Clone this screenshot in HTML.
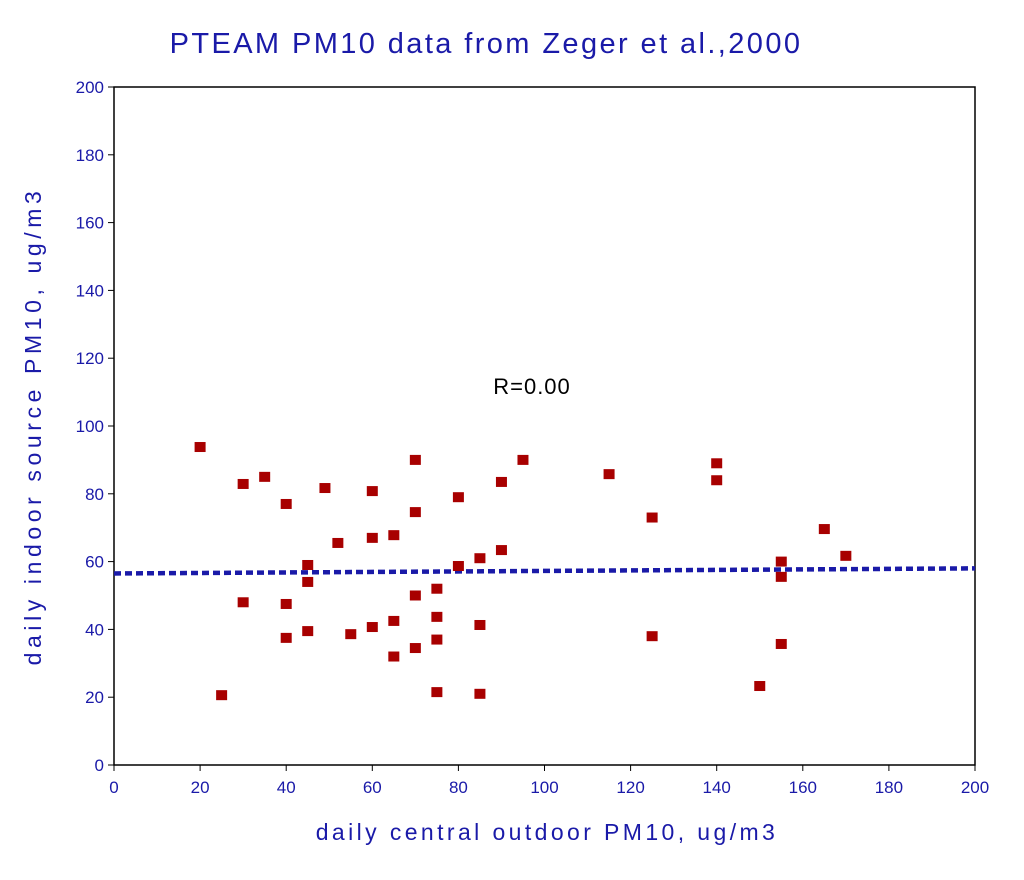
<!DOCTYPE html>
<html><head><meta charset="utf-8"><style>
body{margin:0;background:#fff;}
svg text{font-family:"Liberation Sans",sans-serif;}
</style></head><body>
<svg width="1024" height="875" viewBox="0 0 1024 875" xmlns="http://www.w3.org/2000/svg">
<text x="486" y="53" font-size="29" letter-spacing="2.4" fill="#1a1aa8" text-anchor="middle">PTEAM PM10 data from Zeger et al.,2000</text>
<rect x="114" y="87" width="861" height="678" fill="none" stroke="#000" stroke-width="1.5"/>
<g id="axes"></g>
<g id="marks"></g>
<text x="532" y="394" font-size="22" letter-spacing="1" fill="#000" text-anchor="middle">R=0.00</text>
<text x="547" y="840" font-size="23" letter-spacing="3.4" fill="#1a1aa8" text-anchor="middle">daily central outdoor PM10, ug/m3</text>
<text transform="translate(41,426) rotate(-90)" font-size="23" letter-spacing="4.6" fill="#1a1aa8" text-anchor="middle">daily indoor source PM10, ug/m3</text>
</svg>
<script>
const xVals=[20,25,30,30,35,40,40,40,45,45,45,49,52,55,60,60,60,65,65,65,70,70,70,70,75,75,75,75,80,80,85,85,85,90,90,95,115,125,125,140,140,150,155,155,155,165,170];
const yVals=[93.8,20.6,82.9,48,85,77,47.5,37.5,59,54,39.5,81.7,65.5,38.6,80.8,67,40.7,67.8,42.5,32,90,74.6,50,34.5,52,43.7,37,21.5,79,58.7,61,41.3,21,83.5,63.4,90,85.8,73,38,89,84,23.3,60,55.5,35.7,69.6,61.7];
const xTicks=[0,20,40,60,80,100,120,140,160,180,200];
const yTicks=[0,20,40,60,80,100,120,140,160,180,200];
const fitX=[0,200];
const fitY=[56.5,58];
const NS="http://www.w3.org/2000/svg";
const X=v=>114+v*861/200, Y=v=>765-v*678/200;
const axes=document.getElementById('axes'), marks=document.getElementById('marks');
function mk(t,a,p){const e=document.createElementNS(NS,t);for(const k in a)e.setAttribute(k,a[k]);p.appendChild(e);return e;}
xTicks.forEach(t=>{
 const l=mk('line',{x1:X(t),x2:X(t),y1:765,y2:771,stroke:'#000'},axes);
 
 
 const tx=mk('text',{x:X(t),y:793,'font-size':17,fill:'#1a1aa8','text-anchor':'middle'},axes);tx.textContent=t;
 
 
});
yTicks.forEach(t=>{
 const l=mk('line',{x1:108,x2:114,y1:Y(t),y2:Y(t),stroke:'#000'},axes);
 
 
 const tx=mk('text',{x:104,y:Y(t)+6,'font-size':17,fill:'#1a1aa8','text-anchor':'end'},axes);tx.textContent=t;
 
 
});
const fl=mk('line',{x1:X(fitX[0]),x2:X(fitX[1]),y1:Y(fitY[0]),y2:Y(fitY[1]),stroke:'#1a1aa8','stroke-width':4.5,'stroke-dasharray':'7,4'},marks);


xVals.forEach((v,i)=>{
 const r=mk('rect',{x:X(v)-5.5,y:Y(yVals[i])-5,width:11,height:10,fill:'#a80000'},marks);
 
 
});
</script>
</body></html>
